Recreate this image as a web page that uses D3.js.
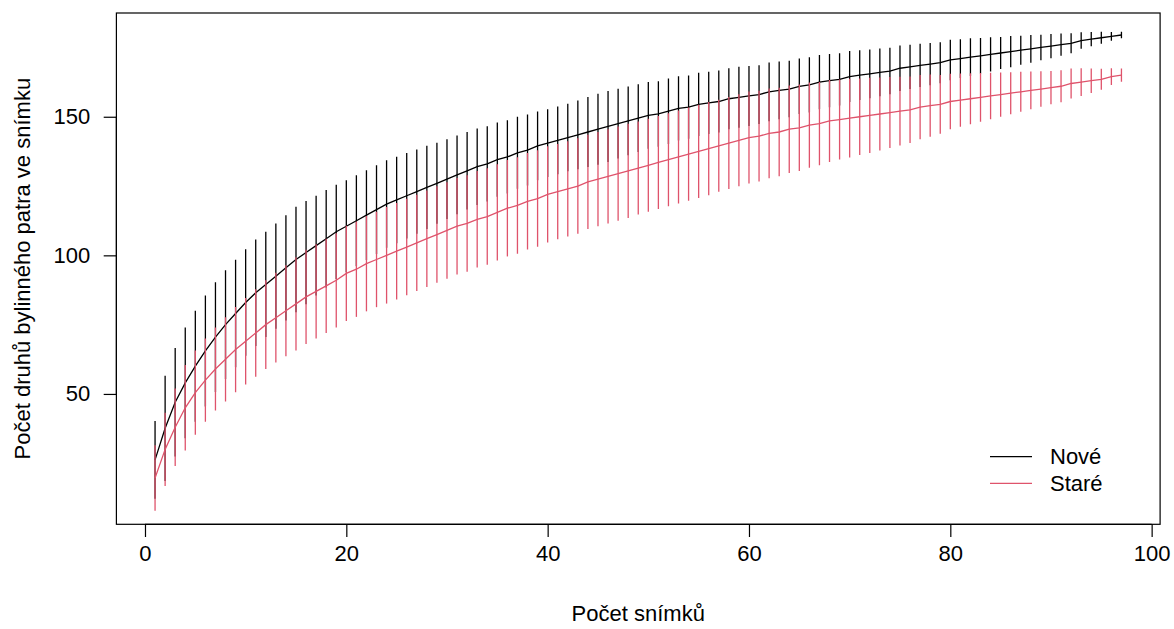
<!DOCTYPE html>
<html>
<head>
<meta charset="utf-8">
<script src="https://cdn.jsdelivr.net/npm/d3@7"></script>
<style>
  html, body { margin: 0; padding: 0; background: #ffffff; }
  svg { display: block; }
  text { font-family: "Liberation Sans", Arial, sans-serif; fill: #000; }
</style>
</head>
<body>
<svg id="chart" width="1174" height="629"></svg>
<script>
// Species accumulation: number of sampled plots (snímky) on x,
// mean richness and its standard deviation for the two groups.
const sites = d3.range(1, 98);

const noveRichness = [26.2,37.6,47,54,60,65.5,70.5,75,79,83,86.5,89.5,92.5,95.5,98.5,101,103.5,106,108.5,110.5,
  112.5,114.5,116.5,118.5,120,121.5,123,124.5,126,127.5,129,130.5,132,133,134.5,135.5,137,138,139.5,140.5,
  141.5,142.5,143.5,144.5,145.5,146.5,147.5,148.5,149.5,150.5,151,152,153,153.5,154.5,155,155.5,156.5,157,157.5,
  158,159,159.5,160,161,161.5,162.5,163,163.5,164.5,165,165.5,166,166.5,167.5,168,168.5,169,169.5,170.5,
  171,171.5,172,172.5,173,173.5,174,174.5,175,175.5,176,176.5,177.5,178,178.5,179,179.5];
const noveSd = [7,9.5,9.8,10,10,10,9.9,9.8,9.7,9.6,9.6,9.5,9.5,9.5,9.5,9.3,9,8.8,8.5,8.3,
  8.2,8.1,8,7.9,7.8,7.7,7.6,7.5,7.3,7.2,7.1,7,6.9,6.8,6.7,6.6,6.5,6.4,6.2,6.1,
  6.1,6.1,6.2,6.3,6.4,6.4,6.3,6.2,6.1,6,5.9,5.9,5.8,5.7,5.7,5.6,5.6,5.5,5.5,5.4,
  5.3,5.3,5.2,5.1,5,5,4.9,4.8,4.7,4.6,4.5,4.4,4.3,4.2,4.1,4,3.9,3.8,3.7,3.65,
  3.5,3.4,3.2,3.1,2.9,2.8,2.6,2.5,2.3,2.2,2,1.8,1.5,1.3,1.1,0.8,0.6];

const stareRichness = [19.7,30,38,45,50.5,55,59,62.5,66,69,72,75,77.5,80,82.5,85,87,89,91,93.5,
  95,97,98.5,100,101.5,103,104.5,106,107.5,109,110.5,111.5,113,114,115.5,117,118,119.5,120.5,122,
  123,124,125,126.5,127.5,128.5,129.5,130.5,131.5,132.5,133.5,134.5,135.5,136.5,137.5,138.5,139.5,140.5,141.5,142.5,
  143,144,144.5,145.5,146,147,147.5,148.5,149,149.5,150,150.5,151,151.5,152,152.5,153.5,154,154.5,155.5,
  156,156.5,157,157.5,158,158.5,159,159.5,160,160.5,161,162,162.5,163,163.5,164.5,165];
const stareSd = [5.9,6.6,7,7.7,7.6,7.5,7.5,7.6,7.7,7.8,7.9,8,8.1,8.2,8.4,8.5,8.5,8.5,8.5,8.6,
  8.6,8.6,8.6,8.7,8.7,8.7,8.7,8.7,8.7,8.7,8.7,8.7,8.7,8.7,8.7,8.7,8.7,8.7,8.7,8.7,
  8.6,8.6,8.6,8.5,8.5,8.5,8.5,8.5,8.4,8.4,8.4,8.4,8.4,8.4,8.4,8.4,8.3,8.3,8.3,8.3,
  8.2,8.1,8,7.9,7.8,7.7,7.5,7.4,7.2,7.1,6.9,6.8,6.6,6.4,6.2,6,5.8,5.6,5.3,5,
  4.8,4.6,4.4,4.2,4,3.8,3.6,3.4,3.2,3,2.9,2.7,2.5,2.2,1.9,1.5,1.2];

const groups = ["Nové", "Staré"];
const groupColors = ["#000000", "#DF536B"];
const xTicks = [0, 20, 40, 60, 80, 100];
const yTicks = [50, 100, 150];
const xTitle = "Počet snímků";
const yTitle = "Počet druhů bylinného patra ve snímku";

const ciMult = 2;   // bars span richness ± 2 sd

const plot = { left: 116.4, right: 1160.1, top: 13, bottom: 524.3 };

// axis limits as in base graphics: data range padded by 4 % on each side
const xLim = [1, 97];
const yLim = [9.8, 180.6];
const pad = (l) => { const d = (l[1] - l[0]) * 0.04; return [l[0] - d, l[1] + d]; };

const x = d3.scaleLinear().domain(pad(xLim)).range([plot.left, plot.right]);
const y = d3.scaleLinear().domain(pad(yLim)).range([plot.bottom, plot.top]);

const svg = d3.select("#chart");

const clipId = "plotClip";
svg.append("defs").append("clipPath").attr("id", clipId)
  .append("rect")
  .attr("x", plot.left).attr("y", plot.top)
  .attr("width", plot.right - plot.left).attr("height", plot.bottom - plot.top);

const series = [
  { name: groups[0], color: groupColors[0], mean: noveRichness, sd: noveSd },
  { name: groups[1], color: groupColors[1], mean: stareRichness, sd: stareSd }
];

const marks = svg.append("g").attr("clip-path", `url(#${clipId})`);

series.forEach(s => {
  const g = marks.append("g");
  // confidence bars
  g.selectAll("line.ci")
    .data(sites.map((site, i) => ({ site, m: s.mean[i], sd: s.sd[i] })))
    .join("line")
    .attr("class", "ci")
    .attr("x1", d => x(d.site)).attr("x2", d => x(d.site))
    .attr("y1", d => y(d.m - ciMult * d.sd))
    .attr("y2", d => y(d.m + ciMult * d.sd))
    .attr("stroke", s.color)
    .attr("stroke-width", 1.3);
  // mean accumulation curve
  g.append("path")
    .datum(sites.map((site, i) => [site, s.mean[i]]))
    .attr("fill", "none")
    .attr("stroke", s.color)
    .attr("stroke-width", 1.3)
    .attr("d", d3.line().x(d => x(d[0])).y(d => y(d[1])));
});

// box
svg.append("rect")
  .attr("x", plot.left).attr("y", plot.top)
  .attr("width", plot.right - plot.left).attr("height", plot.bottom - plot.top)
  .attr("fill", "none").attr("stroke", "#000").attr("stroke-width", 1.2);

// axes
const xAxis = d3.axisBottom(x).tickValues(xTicks).tickSize(12.7).tickPadding(8).tickFormat(d3.format("d"));
const gx = svg.append("g").attr("transform", `translate(0,${plot.bottom})`).call(xAxis);
gx.select(".domain").attr("d", `M${x(xTicks[0])},0H${x(xTicks[xTicks.length - 1])}`)
  .attr("stroke", "#000").attr("stroke-width", 1.2);
gx.selectAll(".tick line").attr("stroke", "#000").attr("stroke-width", 1.2);
gx.selectAll(".tick text").attr("font-size", 22).attr("font-family", "Liberation Sans, Arial, sans-serif");

const yAxis = d3.axisLeft(y).tickValues(yTicks).tickSize(12.7).tickPadding(13.5).tickFormat(d3.format("d"));
const gy = svg.append("g").attr("transform", `translate(${plot.left},0)`).call(yAxis);
gy.select(".domain").attr("d", `M0,${y(yTicks[0])}V${y(yTicks[yTicks.length - 1])}`)
  .attr("stroke", "#000").attr("stroke-width", 1.2);
gy.selectAll(".tick line").attr("stroke", "#000").attr("stroke-width", 1.2);
gy.selectAll(".tick text").attr("font-size", 22).attr("font-family", "Liberation Sans, Arial, sans-serif");

// titles
svg.append("text")
  .attr("x", (plot.left + plot.right) / 2).attr("y", 621)
  .attr("text-anchor", "middle").attr("font-size", 22)
  .text(xTitle);

svg.append("text")
  .attr("transform", `translate(30,${(plot.top + plot.bottom) / 2}) rotate(-90)`)
  .attr("text-anchor", "middle").attr("font-size", 22)
  .text(yTitle);

// legend
const legend = svg.append("g");
series.forEach((s, i) => {
  const ly = 456.7 + i * 26.7;
  legend.append("line")
    .attr("x1", 990).attr("x2", 1032).attr("y1", ly).attr("y2", ly)
    .attr("stroke", s.color).attr("stroke-width", 1.3);
  legend.append("text")
    .attr("x", 1050).attr("y", ly + 7.5)
    .attr("font-size", 22)
    .text(s.name);
});
</script>
</body>
</html>
